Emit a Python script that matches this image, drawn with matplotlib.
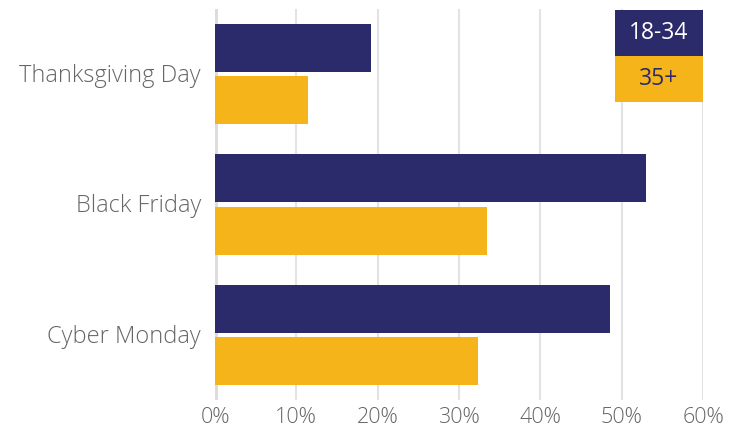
import matplotlib.pyplot as plt
import numpy as np
from matplotlib.patches import Rectangle

# data
categories = ["Thanksgiving Day", "Black Friday", "Cyber Monday"]
age_18_34 = [19.2, 53.0, 48.6]
age_35_plus = [11.4, 33.5, 32.3]
series_names = ["18-34", "35+"]
xticks = [0, 10, 20, 30, 40, 50, 60]

navy = "#2b2a6b"
yellow = "#f5b51a"
gray_txt = "#666666"

plt.rcParams['font.family'] = ['Open Sans', 'DejaVu Sans']

fig = plt.figure(figsize=(7.42, 4.30), dpi=100)
ax = fig.add_axes([215/742, 1 - 400/430, 488/742, 391/430])

y = np.arange(len(categories))
h = 0.368
off = 0.2
ax.barh(y - off, age_18_34, height=h, color=navy, zorder=3)
ax.barh(y + off, age_35_plus, height=h, color=yellow, zorder=3)

ax.set_xlim(0, 60)
ax.set_ylim(2.5, -0.5)

# gridlines
for t in xticks:
    if t == 0:
        ax.axvline(t, color="#dcdcdc", lw=3.6, zorder=2)
    else:
        ax.axvline(t, color="#e3e3e3", lw=1.5, zorder=1)

ax.set_yticks(y - 0.01)
ax.set_yticklabels(categories, fontsize=17, color=gray_txt, fontweight='light')
ax.set_xticks(xticks)
ax.set_xticklabels([f"{t}%" for t in xticks], fontsize=15.5, color=gray_txt, fontweight='light')
ax.tick_params(length=0)
ax.tick_params(axis='y', pad=10)
ax.tick_params(axis='x', pad=5)
for s in ax.spines.values():
    s.set_visible(False)

# legend boxes
x0, x1 = 0.8197, 1.0
boxes = [(0.880, 0.997, navy, "white"), (0.762, 0.880, yellow, navy)]
for name, (b, t, fc, tc) in zip(series_names, boxes):
    ax.add_patch(Rectangle((x0, b), x1 - x0, t - b, transform=ax.transAxes,
                           facecolor=fc, edgecolor="none", zorder=5, clip_on=False))
    ax.text((x0 + x1) / 2, (b + t) / 2, name, transform=ax.transAxes, ha="center",
            va="center", color=tc, fontsize=16.5, zorder=6)

fig.savefig("out.png", dpi=100)
